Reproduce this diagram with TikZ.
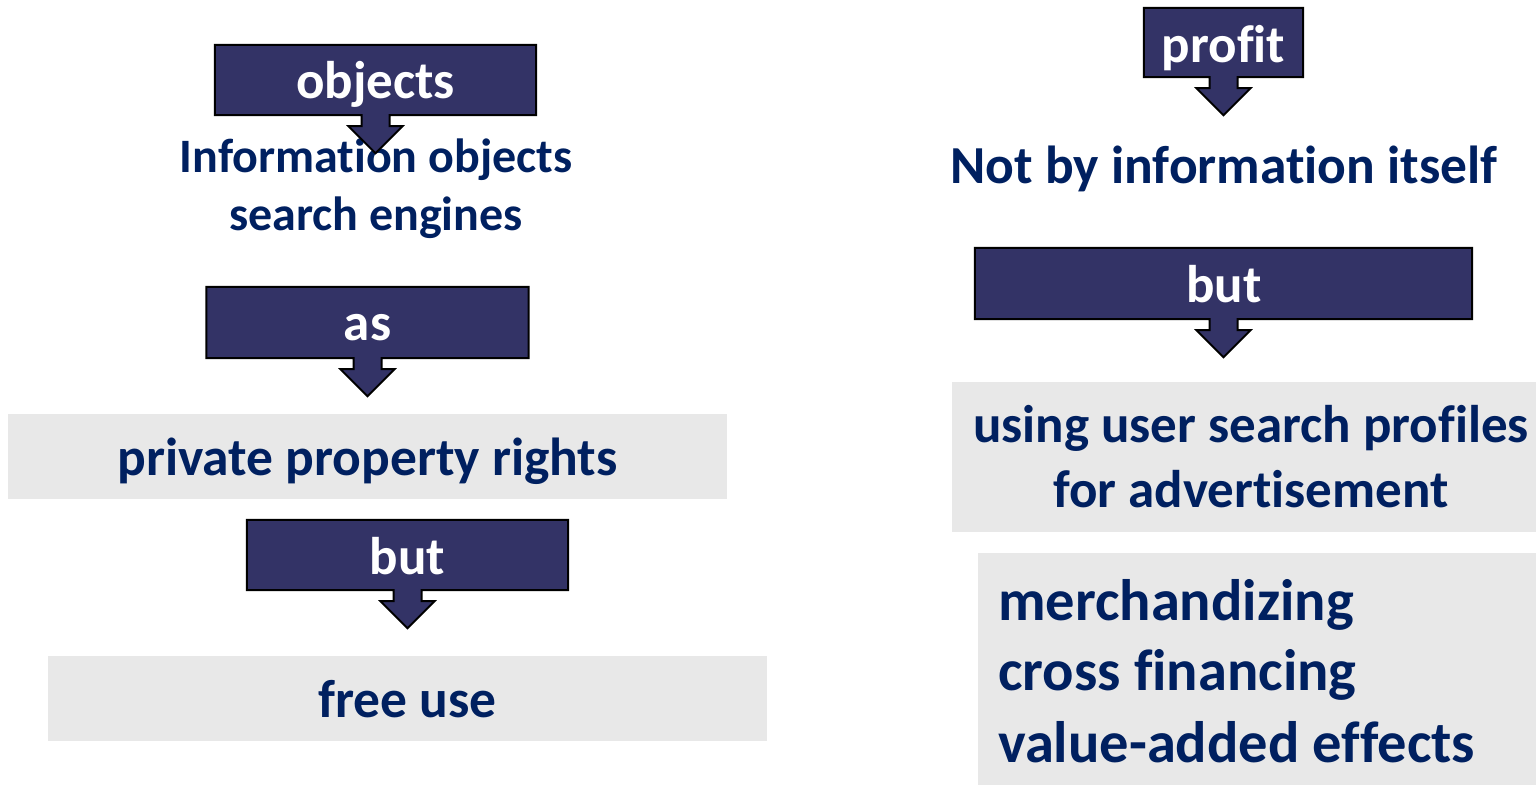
\documentclass[tikz,border=0pt]{standalone}
\usepackage{fontspec}
\setmainfont{Carlito}[Ligatures={NoCommon}]
\usetikzlibrary{calc}
\definecolor{boxblue}{RGB}{51,51,102}
\definecolor{txtblue}{RGB}{0,32,96}
\definecolor{graybg}{RGB}{232,232,232}
\tikzset{
  callbox/.style={minimum height=70pt, inner sep=0pt},
  calltext/.style={text=white, inner sep=0pt, anchor=base, font=\bfseries\fontsize{53}{60}\selectfont},
  graybox/.style={fill=graybg, inner sep=0pt},
  bluetext/.style={text=txtblue, inner sep=0pt, anchor=base},
  outline/.style={line width=2pt, fill=boxblue, line join=miter},
}
\newcommand{\calloutpath}[1]{%
  \draw[outline]
   (#1.north west) -- (#1.north east) -- (#1.south east)
   -- ($(#1.south)+(14,0)$) -- ++(0,11) -- ++(13,0) -- ($(#1.south)+(0,38)$)
   -- ($(#1.south)+(-27,11)$) -- ++(13,0) -- ($(#1.south)+(-14,0)$)
   -- (#1.south west) -- cycle;}
\begin{document}
\begin{tikzpicture}[x=1pt,y=-1pt]
\useasboundingbox (0,0) rectangle (1536,785);
% gray boxes
\node[graybox, minimum width=719pt, minimum height=85pt] (g1) at (367.5,456.5) {};
\node[graybox, minimum width=719pt, minimum height=85pt] (g2) at (407.5,698.5) {};
\node[graybox, minimum width=584pt, minimum height=150pt] (g3) at (1244,457) {};
\node[graybox, minimum width=558pt, minimum height=232pt] (g4) at (1257,669) {};
% texts
\node[bluetext, font=\bfseries\fontsize{48}{58}\selectfont] (t1a) at (376,172) {Information objects};
\node[bluetext, font=\bfseries\fontsize{48}{58}\selectfont] (t1b) at (376,230) {search engines};
\node[bluetext, font=\bfseries\fontsize{53.5}{60}\selectfont] (t2) at (1224,183) {Not by information itself};
\node[bluetext, font=\bfseries\fontsize{53.5}{60}\selectfont] (t3) at (367.5,475) {private property rights};
\node[bluetext, font=\bfseries\fontsize{53.5}{60}\selectfont] (t4) at (407.5,717) {free use};
\node[bluetext, font=\bfseries\fontsize{53}{60}\selectfont] (t5a) at (1251,442) {using user search profiles};
\node[bluetext, font=\bfseries\fontsize{53}{60}\selectfont] (t5b) at (1251,507) {for advertisement};
\node[bluetext, anchor=base west, font=\bfseries\fontsize{58.5}{70}\selectfont] (t6a) at (998,620) {merchandizing};
\node[bluetext, anchor=base west, font=\bfseries\fontsize{58.5}{70}\selectfont] (t6b) at (998,690) {cross financing};
\node[bluetext, anchor=base west, font=\bfseries\fontsize{58.5}{70}\selectfont] (t6c) at (998,762) {value-added effects};
% callouts
\node[callbox, minimum width=321pt] (c1) at (375.5,80) {};
\calloutpath{c1}
\node[calltext] (c1t) at (375.5,98) {objects};
\node[callbox, minimum width=322pt, minimum height=71pt] (c2) at (367.5,322.5) {};
\calloutpath{c2}
\node[calltext] (c2t) at (367.5,340) {as};
\node[callbox, minimum width=321pt] (c3) at (407.5,555) {};
\calloutpath{c3}
\node[calltext] (c3t) at (407.5,574) {but};
\node[callbox, minimum width=159pt, minimum height=69pt] (c4) at (1223.5,42.5) {};
\calloutpath{c4}
\node[calltext] (c4t) at (1223.5,62) {profit};
\node[callbox, minimum width=497pt, minimum height=71pt] (c5) at (1223.5,283.5) {};
\calloutpath{c5}
\node[calltext] (c5t) at (1224,302) {but};
\end{tikzpicture}
\end{document}
